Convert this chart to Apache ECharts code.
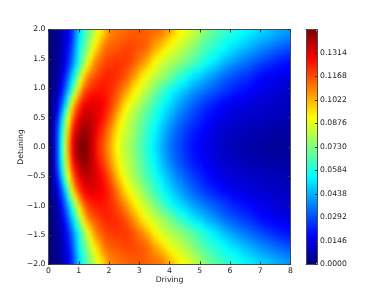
<!DOCTYPE html>
<html>
<head>
<meta charset="utf-8">
<style>html,body{margin:0;padding:0;background:#fff}#c{width:390px;height:294px;position:relative}</style>
<script src="https://cdn.jsdelivr.net/npm/echarts@6/dist/echarts.min.js"></script>
</head>
<body>
<svg width="0" height="0" style="position:absolute"><filter id="soft" x="0" y="0" width="100%" height="100%" color-interpolation-filters="sRGB"><feGaussianBlur stdDeviation="1.4 3"/></filter></svg>
<div id="c"></div>
<script>
// Values, in thousandths. One row per detuning, columns are driving 0, 0.125, ... 8.
const d000=[0,10,31,56,81,107,128,139,145,146,143,137,130,122,117,111,105,98,91,86,82,79,76,72,68,64,60,56,52,48,44,40,36,33,30,28,25,23,21,19,18,16,15,14,13,12,11,10,9,8,8,7,7,6,6,6,5,5,5,5,4,4,4,4,4];
const d012=[0,10,30,55,80,105,127,138,144,145,143,137,131,123,118,112,106,99,92,87,83,80,77,73,69,65,61,57,53,49,45,41,37,34,31,29,26,24,22,20,19,17,16,14,13,12,11,10,9,9,8,8,7,7,6,6,6,5,5,5,5,4,4,4,4];
const d025=[0,9,29,53,77,101,123,134,140,143,142,138,132,125,120,114,108,101,94,88,84,81,78,74,70,66,62,58,54,50,46,42,39,35,32,30,27,25,23,21,20,18,17,15,14,13,12,11,10,10,9,9,8,8,7,7,7,6,6,6,6,5,5,5,5];
const d037=[0,9,27,50,74,97,118,130,136,140,140,137,133,127,123,117,111,104,97,91,86,82,79,75,71,67,63,60,56,52,48,44,41,38,34,32,29,27,25,23,22,20,18,17,15,14,13,12,11,11,10,10,9,9,8,8,8,8,7,7,7,6,6,6,6];
const d050=[0,8,23,46,69,91,110,124,131,136,137,136,134,130,126,121,115,109,101,94,88,84,80,77,73,69,65,62,58,54,51,47,44,41,37,35,32,30,28,26,24,22,20,19,17,16,15,14,13,12,12,11,11,11,10,10,10,10,9,9,9,8,8,8,8];
const d062=[0,7,19,38,59,81,103,118,126,132,134,134,133,130,127,123,118,112,105,99,92,87,83,80,76,72,68,65,61,57,54,50,47,44,40,38,35,33,30,28,26,24,22,21,19,18,17,16,15,14,13,13,12,12,11,11,11,10,10,10,9,9,9,9,8];
const d075=[0,5,14,29,47,70,95,110,120,128,131,132,131,130,129,125,121,116,110,104,97,91,87,83,80,76,72,68,64,60,57,53,50,47,44,41,38,36,33,31,29,27,25,24,22,21,19,18,17,16,15,15,14,13,13,12,12,11,11,11,10,10,10,10,9];
const d087=[0,4,11,24,40,59,81,97,111,121,125,127,128,128,127,125,122,118,113,108,102,97,92,87,84,80,76,72,68,64,61,57,54,50,48,45,42,40,37,35,33,31,29,28,26,25,23,22,21,19,18,18,17,16,15,14,14,13,13,12,11,11,11,10,10];
const d100=[0,2,8,19,32,47,66,82,100,113,119,122,124,125,125,124,122,120,116,113,108,103,97,92,88,84,81,77,73,69,65,61,58,54,52,49,47,45,42,40,38,36,34,32,31,29,28,26,25,23,22,21,20,19,18,17,16,15,15,14,13,13,12,11,10];
const d112=[0,2,6,15,27,41,57,73,90,104,113,118,120,122,123,123,122,121,118,116,112,108,102,98,93,88,85,81,78,74,71,68,65,61,58,55,53,50,47,45,43,41,39,37,35,33,31,29,28,26,25,24,23,22,21,19,18,17,16,15,15,14,13,13,12];
const d125=[0,1,5,12,22,35,49,64,80,95,107,113,116,119,121,123,123,122,121,119,117,113,108,104,99,93,89,86,83,80,78,75,72,69,65,62,59,56,53,51,49,47,44,42,40,38,35,33,32,30,29,27,26,25,24,22,21,19,18,17,17,16,15,15,14];
const d137=[0,1,4,10,18,29,42,56,70,84,96,105,111,115,118,120,121,121,121,120,118,116,112,109,104,100,96,92,88,84,82,79,76,74,71,68,66,63,60,58,56,53,50,48,46,44,41,39,37,35,34,32,31,30,28,26,25,23,22,21,20,19,18,18,17];
const d150=[0,1,4,9,15,24,36,48,61,74,86,97,107,112,115,118,119,120,121,120,120,119,117,114,110,107,103,98,93,89,86,83,81,79,77,75,73,70,68,66,63,60,57,55,52,50,47,45,43,41,39,37,36,34,33,31,30,28,27,26,24,23,22,21,20];
const d162=[0,1,3,8,14,22,33,46,59,70,80,90,100,106,111,115,116,117,118,118,119,118,117,115,113,111,108,103,99,95,92,88,85,83,81,79,77,74,72,69,66,63,61,59,56,54,52,50,48,46,44,42,41,39,38,36,35,33,32,31,29,28,27,26,25];
const d175=[0,1,3,7,12,20,31,44,57,66,75,84,93,100,108,112,114,115,116,117,118,118,118,117,116,115,113,109,105,102,98,94,90,88,85,83,81,78,76,73,70,67,65,63,61,59,57,55,53,51,50,48,46,45,43,41,40,38,37,36,35,33,32,31,30];
const d187=[0,1,3,6,11,18,28,41,54,63,71,80,88,95,102,107,111,112,113,114,115,116,116,116,115,115,113,111,108,106,104,100,96,93,90,87,85,82,80,77,74,71,68,66,64,62,60,58,56,55,54,52,50,49,47,46,44,43,42,41,39,38,37,36,35];
const d200=[0,1,3,6,11,17,26,39,51,61,68,76,83,90,96,102,108,110,111,112,113,114,115,115,115,115,114,113,112,111,110,106,103,99,95,92,89,87,84,82,79,75,72,70,68,66,64,62,60,59,58,56,55,53,52,51,49,48,47,46,44,43,42,41,40];

// The picture is symmetric about zero detuning, so each row is read once and used for +d and -d.
const upperRows=[d000,d012,d025,d037,d050,d062,d075,d087,d100,d112,d125,d137,d150,d162,d175,d187,d200];
const valueUnit=0.001;
const rows=upperRows.slice(1).reverse().concat(upperRows);

const drivingTicks=[0,1,2,3,4,5,6,7,8];
const detuningTicks=[-2,-1.5,-1,-0.5,0,0.5,1,1.5,2];
const colorbarTicks=[0,0.0146,0.0292,0.0438,0.0584,0.073,0.0876,0.1022,0.1168,0.1314];
const colorMax=0.146;
const jet=['#00007f','#0000ff','#007fff','#00ffff','#7fff7f','#ffff00','#ff7f00','#ff0000','#7f0000'];

const cells=[];
rows.forEach((r,y)=>r.forEach((v,x)=>cells.push([x,y,v*valueUnit])));

const plot={left:48.5,top:29.5,width:242,height:235};
const bar={left:306,top:29.5,width:11,height:235};
const frame='#4a4a4a';
const txt={fontFamily:'"DejaVu Sans"',fontSize:7.7,color:'#222'};
const minus=s=>s.replace('-','\u2212');

function xFrame(grid,pos,labels,extra){
  return Object.assign({type:'value',gridIndex:grid,position:pos,min:0,max:8,interval:1,zlevel:1,z:8,
    axisLine:{show:true,onZero:false,lineStyle:{color:frame,width:1}},
    axisTick:{show:true,inside:true,length:3,lineStyle:{color:'#333',width:1}},
    splitLine:{show:false},
    axisLabel:Object.assign({show:labels,margin:3},txt)},extra||{});
}
function yFrame(grid,pos,labels,extra){
  return Object.assign({type:'value',gridIndex:grid,position:pos,min:-2,max:2,interval:0.5,zlevel:1,z:8,
    axisLine:{show:true,onZero:false,lineStyle:{color:frame,width:1}},
    axisTick:{show:true,inside:true,length:3,lineStyle:{color:'#333',width:1}},
    splitLine:{show:false},
    axisLabel:Object.assign({show:labels,margin:3,formatter:v=>minus(v.toFixed(1))},txt)},extra||{});
}
const plain={axisTick:{show:false}};

const option={
  animation:false,
  backgroundColor:'transparent',
  grid:[
    Object.assign({},plot),
    Object.assign({},plot),
    Object.assign({},bar)
  ],
  xAxis:[
    {type:'category',gridIndex:0,data:rows[0].map((_,i)=>i),show:false},
    xFrame(1,'bottom',true,{name:'Driving',nameLocation:'middle',nameGap:12,nameMoveOverlap:false,nameTextStyle:txt}),
    xFrame(1,'top',false),
    xFrame(2,'bottom',false,plain),
    xFrame(2,'top',false,plain)
  ],
  yAxis:[
    {type:'category',gridIndex:0,data:rows.map((_,i)=>i),show:false},
    yFrame(1,'left',true,{name:'Detuning',nameLocation:'middle',nameGap:23,nameMoveOverlap:false,nameTextStyle:txt}),
    yFrame(1,'right',false),
    yFrame(2,'left',false,plain),
    {type:'value',gridIndex:2,position:'right',min:0,max:colorMax,interval:0.0146,zlevel:1,z:8,
     axisLine:{show:true,onZero:false,lineStyle:{color:frame,width:1}},
     axisTick:{show:true,inside:true,length:2,lineStyle:{color:'#333',width:1}},
     splitLine:{show:false},
     axisLabel:Object.assign({show:true,margin:3,showMaxLabel:false,formatter:v=>v.toFixed(4)},txt)}
  ],
  visualMap:{
    type:'continuous',seriesIndex:0,dimension:2,min:0,max:colorMax,zlevel:1,
    left:bar.left,top:bar.top,itemWidth:bar.width,itemHeight:bar.height,padding:0,
    calculable:false,realtime:false,hoverLink:false,text:null,
    textStyle:{fontSize:0,color:'transparent'},
    inRange:{color:jet}
  },
  series:[{
    type:'heatmap',xAxisIndex:0,yAxisIndex:0,zlevel:0,data:cells,progressive:0,silent:true,
    emphasis:{disabled:true},itemStyle:{borderWidth:0}
  }]
};
const chart=echarts.init(document.getElementById('c'),null,{renderer:'canvas'});
// Soften the cell edges the way the original image interpolation does: the sharp layer stays under a
// blurred copy so that the plot's edges keep their full colour.
let softened=false;
function soften(){
  if(softened) return;
  const src=chart.getDom().querySelector('canvas');
  if(!src) return;
  softened=true;
  const under=document.createElement('canvas');
  under.width=src.width; under.height=src.height;
  under.style.cssText=src.style.cssText;
  under.getContext('2d').drawImage(src,0,0);
  src.parentNode.insertBefore(under,src);
  src.style.filter='url(#soft)';
  src.style.clipPath='inset(29.5px 99.5px 29.5px 48.5px)';
}
chart.on('finished',soften);
chart.setOption(option);
</script>
</body>
</html>
